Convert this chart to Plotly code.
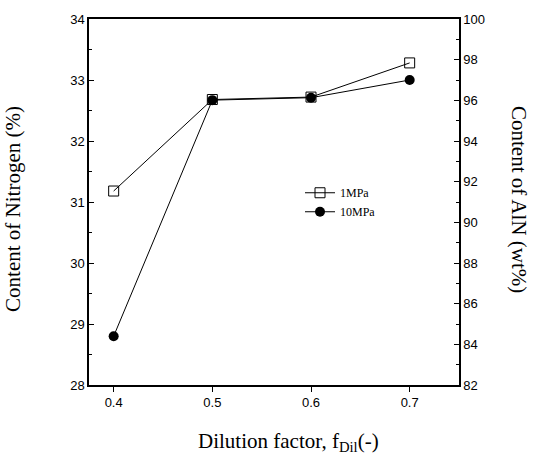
import plotly.graph_objects as go

dilution = [0.4, 0.5, 0.6, 0.7]
n_1mpa = [31.18, 32.68, 32.72, 33.28]
n_10mpa = [28.80, 32.67, 32.71, 33.00]
series_names = ["1MPa", "10MPa"]

x_range = [0.375, 0.75]
y_left_range = [28, 34]
y_right_range = [82, 100]

W, H = 534, 471
ml, mr, mt, mb = 89, 75, 15, 86
pw, ph = W - ml - mr, H - mt - mb

tick_font = dict(family="Liberation Sans Narrow, Arial Narrow, Liberation Sans, Arial", size=13, color="black")
title_font = dict(family="Liberation Serif, Times New Roman, serif", size=21, color="black")

fig = go.Figure()
fig.add_trace(go.Scatter(
    x=dilution, y=n_1mpa, name=series_names[0], mode="lines+markers",
    line=dict(color="black", width=1),
    marker=dict(symbol="square-open", size=10, color="black", line=dict(width=1, color="black")),
))
fig.add_trace(go.Scatter(
    x=dilution, y=n_10mpa, name=series_names[1], mode="lines+markers",
    line=dict(color="black", width=1),
    marker=dict(symbol="circle", size=10, color="black"),
))
# invisible trace so the right-hand axis (AlN content) is drawn
fig.add_trace(go.Scatter(
    x=[dilution[0], dilution[-1]], y=y_right_range, yaxis="y2", mode="markers",
    marker=dict(opacity=0), showlegend=False, hoverinfo="skip",
))

fig.update_layout(
    width=W, height=H,
    margin=dict(l=ml, r=mr, t=mt, b=mb),
    paper_bgcolor="white", plot_bgcolor="white",
    showlegend=True,
    legend=dict(
        x=(300 - ml) / pw, y=1 - (176 - mt) / ph, xanchor="left", yanchor="top",
        font=dict(family="Liberation Serif, Times New Roman, serif", size=12, color="black"),
        bgcolor="rgba(0,0,0,0)", itemwidth=30, tracegroupgap=0,
    ),
    xaxis=dict(
        range=x_range, tickvals=dilution, ticktext=["0.4", "0.5", "0.6", "0.7"],
        showline=True, linecolor="black", linewidth=1.5, mirror=True,
        ticks="outside", ticklen=5, tickcolor="black",
        showgrid=False, zeroline=False, tickfont=tick_font,
    ),
    yaxis=dict(
        range=y_left_range, dtick=1, showline=True, linecolor="black", linewidth=1.5,
        ticks="inside", ticklen=5, tickcolor="black",
        minor=dict(dtick=0.5, ticks="inside", ticklen=3, tickcolor="black"),
        showgrid=False, zeroline=False, tickfont=tick_font,
    ),
    yaxis2=dict(
        range=y_right_range, dtick=2, overlaying="y", side="right",
        showline=True, linecolor="black", linewidth=1.5,
        ticks="inside", ticklen=5, tickcolor="black",
        minor=dict(dtick=1, ticks="inside", ticklen=3, tickcolor="black"),
        showgrid=False, zeroline=False, tickfont=tick_font,
    ),
    annotations=[
        dict(text="Content of Nitrogen (%)", xref="paper", yref="paper",
             x=(13 - ml) / pw, y=1 - (207 - mt) / ph, textangle=-90,
             showarrow=False, font=title_font, xanchor="center", yanchor="middle"),
        dict(text="Content of AlN (wt%)", xref="paper", yref="paper",
             x=(519 - ml) / pw, y=1 - (197 - mt) / ph, textangle=90,
             showarrow=False, font=title_font, xanchor="center", yanchor="middle"),
        dict(text="Dilution factor, f<sub>Dil</sub>(-)", xref="paper", yref="paper",
             x=(288 - ml) / pw, y=((H - mb) - 443) / ph,
             showarrow=False, font=title_font, xanchor="center", yanchor="middle"),
    ],
)

fig.write_html("out.html")
